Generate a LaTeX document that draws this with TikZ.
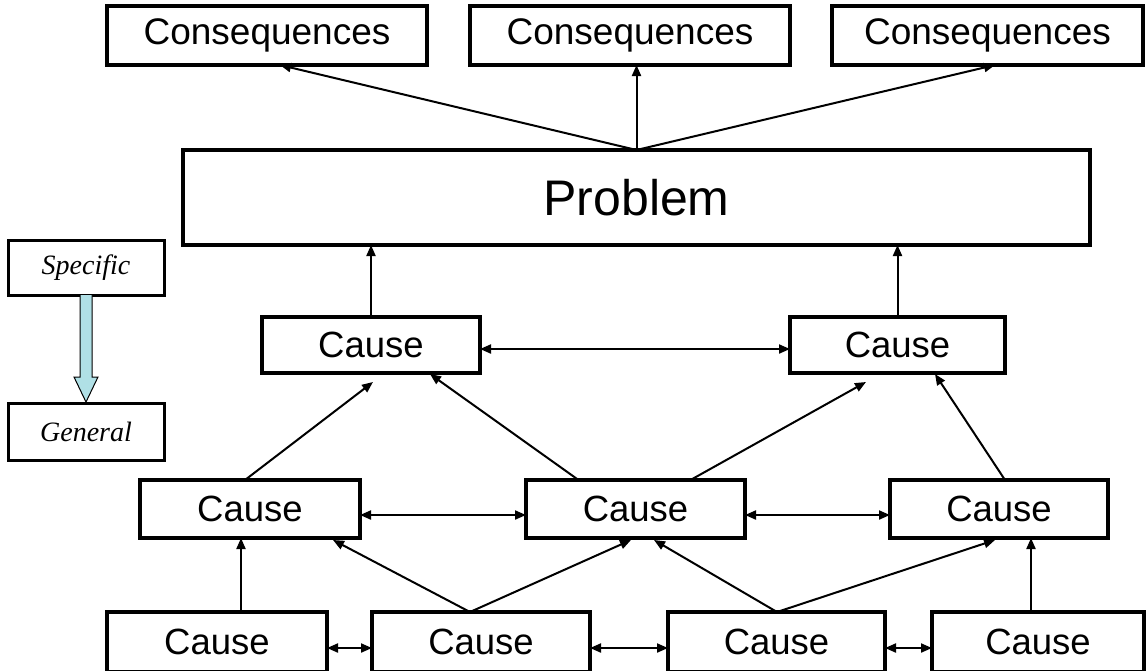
\documentclass[tikz,border=0pt]{standalone}
\usepackage{fontspec}
\setsansfont{Liberation Sans}
\setmainfont{Liberation Serif}
\usetikzlibrary{arrows.meta,calc}
\tikzset{
  box/.style={draw, line width=3.5pt, inner sep=0pt, outer sep=0pt, minimum height=58pt, font=\sffamily\fontsize{36.5}{40}\selectfont},
  lab/.style={draw, line width=3pt, inner sep=0pt, outer sep=0pt, minimum width=156pt, font=\itshape\fontsize{28}{32}\selectfont},
  arr/.style={line width=2pt, -{Triangle[length=11pt,width=9pt]}},
  darr/.style={line width=2pt, {Triangle[length=11pt,width=9pt]}-{Triangle[length=11pt,width=9pt]}},
}
\begin{document}
\begin{tikzpicture}[x=1pt,y=-1pt]
\useasboundingbox (0,0) rectangle (1146,670);
% top
\node[box, minimum width=320pt, minimum height=59pt, font=\sffamily\fontsize{37}{40}\selectfont] (C1) at (267,35.5) {Consequences};
\node[box, minimum width=320pt, minimum height=59pt, font=\sffamily\fontsize{37}{40}\selectfont] (C2) at (630,35.5) {Consequences};
\node[box, minimum width=311pt, minimum height=59pt, font=\sffamily\fontsize{37}{40}\selectfont] (C3) at (987.5,35.5) {Consequences};
\node[box, minimum width=907pt, minimum height=95pt, font=\sffamily\fontsize{50}{56}\selectfont] (P) at (636.5,197.5) {Problem};
% side labels
\node[lab, minimum height=55pt] (S) at (86,267.5) {Specific};
\node[lab, minimum height=57pt] (G) at (86,431.5) {General};
\draw[line width=1pt, fill={rgb,255:red,176;green,224;blue,230}]
  ([xshift=-6pt]S.south) -- ([xshift=-6pt,yshift=-82pt]S.south) -- ([xshift=-12pt,yshift=-82pt]S.south)
  -- ([yshift=1pt]G.north) -- ([xshift=12pt,yshift=-82pt]S.south) -- ([xshift=6pt,yshift=-82pt]S.south)
  -- ([xshift=6pt]S.south);
% causes
\node[box, minimum width=218pt, minimum height=56pt] (R1a) at (371,345) {Cause};
\node[box, minimum width=215pt, minimum height=56pt] (R1b) at (897.5,345) {Cause};
\node[box, minimum width=220pt] (R2a) at (250,509) {Cause};
\node[box, minimum width=219pt] (R2b) at (635.5,509) {Cause};
\node[box, minimum width=218pt] (R2c) at (999,509) {Cause};
\node[box, minimum width=220pt, minimum height=60pt] (R3a) at (217,642) {Cause};
\node[box, minimum width=218pt, minimum height=60pt] (R3b) at (481,642) {Cause};
\node[box, minimum width=217pt, minimum height=60pt] (R3c) at (776.5,642) {Cause};
\node[box, minimum width=212pt, minimum height=60pt] (R3d) at (1038,642) {Cause};
% problem to consequences
\draw[arr] (P.north) -- ([xshift=13pt]C1.south);
\draw[arr] (P.north) -- (P.north |- C2.south);
\draw[arr] (P.north) -- ([xshift=7.5pt]C3.south);
% row1
\draw[arr] (R1a.north) -- (R1a.north |- P.south);
\draw[arr] (R1b.north) -- (R1b.north |- P.south);
\draw[darr] ([yshift=-4pt]R1a.east) -- ([yshift=-4pt]R1b.west);
% row2 up
\draw[arr] ([xshift=-5pt]R2a.north) -- ([xshift=2pt,yshift=-9pt]R1a.south);
\draw[arr] ([xshift=-57pt]R2b.north) -- ([xshift=59pt,yshift=-1pt]R1a.south);
\draw[arr] ([xshift=55pt]R2b.north) -- ([xshift=-31.5pt,yshift=-9pt]R1b.south);
\draw[arr] ([xshift=6pt]R2c.north) -- ([xshift=37.5pt,yshift=-1pt]R1b.south);
\draw[darr] ([yshift=-6pt]R2a.east) -- ([yshift=-6pt]R2b.west);
\draw[darr] ([yshift=-6pt]R2b.east) -- ([yshift=-6pt]R2c.west);
% row3 up
\draw[arr] ([xshift=24pt]R3a.north) -- ([xshift=24pt]R3a.north |- R2a.south);
\draw[arr] ([xshift=-11pt]R3b.north) -- ([xshift=83pt,yshift=-2pt]R2a.south);
\draw[arr] ([xshift=-11pt]R3b.north) -- ([xshift=-4.5pt,yshift=-2pt]R2b.south);
\draw[arr] ([xshift=0.5pt]R3c.north) -- ([xshift=18.5pt,yshift=-2pt]R2b.south);
\draw[arr] ([xshift=0.5pt]R3c.north) -- ([xshift=-4pt,yshift=-2pt]R2c.south);
\draw[arr] ([xshift=-7pt]R3d.north) -- ([xshift=-7pt]R3d.north |- R2c.south);
\draw[darr] ([yshift=-6pt]R3a.east) -- ([yshift=-6pt]R3b.west);
\draw[darr] ([yshift=-6pt]R3b.east) -- ([yshift=-6pt]R3c.west);
\draw[darr] ([yshift=-6pt]R3c.east) -- ([yshift=-6pt]R3d.west);
\end{tikzpicture}
\end{document}
